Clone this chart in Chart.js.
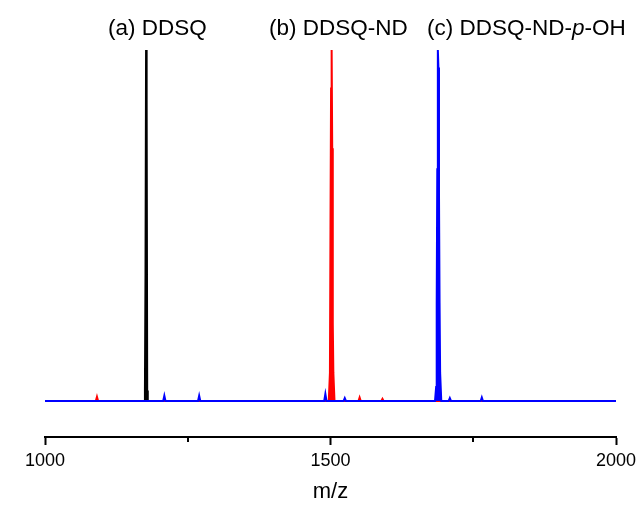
<!DOCTYPE html>
<html>
<head>
<meta charset="utf-8" />
<title>MALDI-TOF spectra</title>
<script src="https://cdn.jsdelivr.net/npm/chart.js"></script>
<style>
  body { margin:0; padding:0; background:#fff; }
  #wrap { position:relative; width:637px; height:505px; }
</style>
</head>
<body>
<div id="wrap"><canvas id="chart"></canvas></div>
<script>
// m/z and relative intensity
const mzA  = [1000, 1174, 1175, 1176, 1177, 1178, 1179, 1180, 2000];
const intA = [0,    0,    0.03, 0.36, 1.0,  0.86, 0.03, 0,    0];

const mzB  = [1000, 1089, 1091, 1093, 1497, 1499, 1500, 1501, 1502, 1503, 1504, 1505, 1507, 1549, 1551, 1553, 1589, 1591, 1593, 2000];
const intB = [0,    0,    0.012, 0,   0,    0.08, 0.51, 0.89, 1.0,  0.72, 0.22, 0.08, 0,    0,    0.01, 0,    0,    0.006, 0,   0];

const mzC  = [1000, 1207, 1209, 1211, 1268, 1270, 1272, 1489, 1491, 1493, 1523, 1525, 1527, 1683, 1685, 1686, 1687, 1688, 1689, 1690, 1691, 1692, 1694, 1707, 1709, 1711, 1763, 1765, 1767, 2000];
const intC = [0,    0,    0.015, 0,   0,    0.015, 0,   0,    0.02, 0,    0,    0.008, 0,   0,    0.04, 0.28, 0.66, 1.0,  0.95, 0.59, 0.28, 0.08, 0,    0,    0.008, 0,   0,    0.01, 0,    0];

const majorTicks = [1000, 1500, 2000];
const minorTicks = [1250, 1750];
const labels = ['(a) DDSQ', '(b) DDSQ-ND', '(c) DDSQ-ND-'];

function pts(xs, ys) { return xs.map((x, i) => ({ x: x, y: ys[i] })); }

const FONT = '"Liberation Sans", Arial, sans-serif';

const extras = {
  id: 'extras',
  afterDraw(chart) {
    const ctx = chart.ctx;
    const x = chart.scales.x;
    const bottom = chart.chartArea.bottom;
    ctx.save();
    // minor ticks
    ctx.strokeStyle = '#000';
    ctx.lineWidth = 2;
    minorTicks.forEach(v => {
      const px = Math.round(x.getPixelForValue(v));
      ctx.beginPath();
      ctx.moveTo(px, bottom);
      ctx.lineTo(px, bottom + 5);
      ctx.stroke();
    });
    // spectrum labels
    ctx.fillStyle = '#000';
    ctx.font = '22.5px ' + FONT;
    ctx.textBaseline = 'alphabetic';
    ctx.textAlign = 'left';
    ctx.fillText(labels[0], 108, 35);
    ctx.fillText(labels[1], 269, 35);
    let cx = 427;
    ctx.fillText(labels[2], cx, 35);
    cx += ctx.measureText(labels[2]).width;
    ctx.font = 'italic 22.5px ' + FONT;
    ctx.fillText('p', cx, 35);
    cx += ctx.measureText('p').width;
    ctx.font = '22.5px ' + FONT;
    ctx.fillText('-OH', cx, 35);
    ctx.restore();
  }
};

new Chart(document.getElementById('chart'), {
  type: 'line',
  data: {
    datasets: [
      { label: 'DDSQ-ND-p-OH', data: pts(mzC, intC), borderColor: '#0000ff', backgroundColor: '#0000ff', fill: 'origin', order: 0 },
      { label: 'DDSQ-ND', data: pts(mzB, intB), borderColor: '#ff0000', backgroundColor: '#ff0000', fill: 'origin', order: 1 },
      { label: 'DDSQ', data: pts(mzA, intA), borderColor: '#000000', backgroundColor: '#000000', fill: 'origin', order: 2 }
    ]
  },
  options: {
    responsive: true,
    maintainAspectRatio: false,
    animation: false,
    elements: {
      point: { radius: 0 },
      line: { borderWidth: 2, tension: 0 }
    },
    layout: { padding: { left: 45, right: 21, top: 50, bottom: 0 } },
    plugins: { legend: { display: false }, tooltip: { enabled: false } },
    scales: {
      x: {
        type: 'linear',
        min: 1000,
        max: 2000,
        afterBuildTicks: axis => { axis.ticks = majorTicks.map(v => ({ value: v })); },
        afterFit: axis => { axis.height = 68; axis.paddingLeft = 0; axis.paddingRight = 0; },
        border: { color: '#000', width: 2 },
        grid: { drawOnChartArea: false, tickLength: 8, color: '#000', tickWidth: 2 },
        ticks: { color: '#000', font: { family: FONT, size: 18 }, padding: 5, maxRotation: 0, callback: v => String(v) },
        title: { display: true, text: 'm/z', color: '#000', font: { family: FONT, size: 22 }, padding: { top: 7, bottom: 0 } }
      },
      y: {
        display: false,
        min: -0.1026,
        max: 1.0
      }
    }
  },
  plugins: [extras]
});
</script>
</body>
</html>
